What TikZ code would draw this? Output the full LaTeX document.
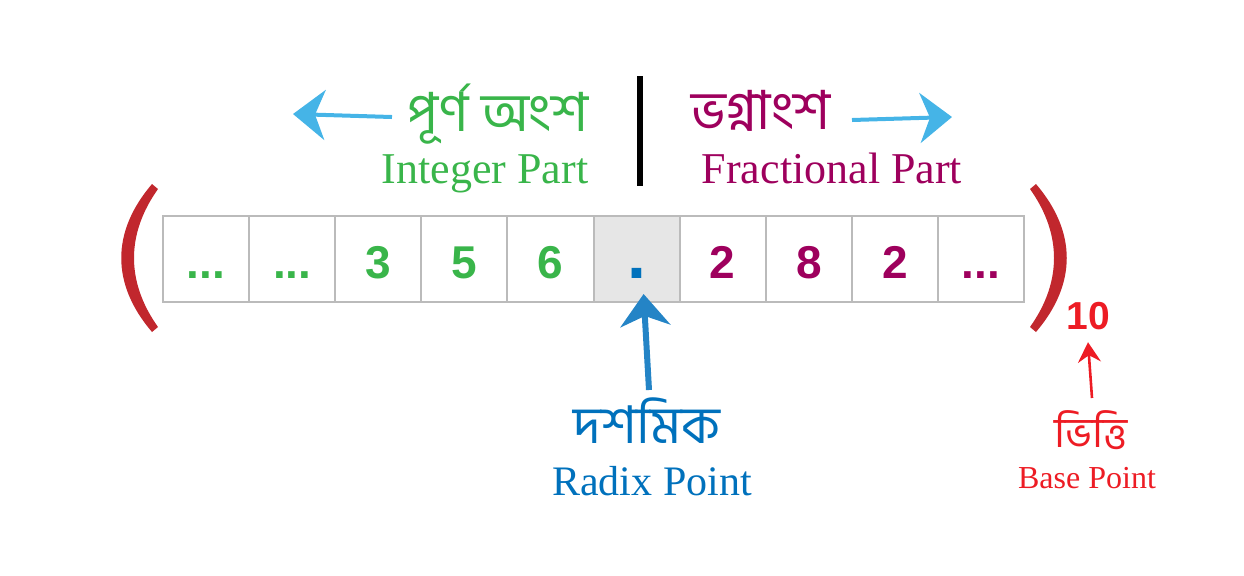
\documentclass[tikz,border=0pt]{standalone}
\usepackage{fontspec}
\setmainfont{Liberation Serif}
\newfontfamily\digitfont{Liberation Sans}
\newfontfamily\bnfont[Script=Bengali]{Hind Siliguri}
\usetikzlibrary{arrows.meta, positioning}
\definecolor{intgreen}{HTML}{39B54A}
\definecolor{fracpurple}{HTML}{9E005D}
\definecolor{radixblue}{HTML}{0071BC}
\definecolor{radixarrow}{HTML}{2484C6}
\definecolor{sideblue}{HTML}{45B4E7}
\definecolor{parenred}{HTML}{C1272D}
\definecolor{basered}{HTML}{ED1C24}
\definecolor{cellgray}{HTML}{BBBBBB}
\definecolor{cellshade}{HTML}{E6E6E6}
\tikzset{
  digitbox/.style={rectangle, draw=cellgray, line width=1pt, inner sep=0pt, outer sep=0pt,
                   minimum width=43.05pt, minimum height=43pt,
                   text height=19pt, text depth=0pt,
                   font=\digitfont\bfseries\fontsize{23pt}{23pt}\selectfont, text=#1},
  digitbox/.default=intgreen,
  bnlbl/.style={font=\bnfont\fontsize{#1}{#1}\selectfont, inner sep=0pt, anchor=base},
  enlbl/.style={font=\fontsize{#1}{#1}\selectfont, inner sep=0pt, anchor=base},
  arr/.style={-{Stealth[length=16pt, width=25pt, inset=5pt]}, line width=2pt, #1},
  arr/.default=sideblue,
  smallarr/.style={-{Stealth[length=10pt, width=11.5pt, inset=3.5pt]}, line width=1.3pt, #1},
}

\begin{document}
\begin{tikzpicture}[x=0.5pt, y=-0.5pt]
  \useasboundingbox (0,0) rectangle (1244,575);

  % --- digit row ---
  \node[digitbox] (c1) at (206.1,259) {...};
  \node[digitbox, right=0pt of c1] (c2) {...};
  \node[digitbox, right=0pt of c2] (c3) {3};
  \node[digitbox, right=0pt of c3] (c4) {5};
  \node[digitbox, right=0pt of c4] (c5) {6};
  \node[digitbox=radixblue, fill=cellshade, right=0pt of c5] (c6) {\fontsize{34pt}{34pt}\selectfont .};
  \node[digitbox=fracpurple, right=0pt of c6] (c7) {2};
  \node[digitbox=fracpurple, right=0pt of c7] (c8) {8};
  \node[digitbox=fracpurple, right=0pt of c8] (c9) {2};
  \node[digitbox=fracpurple, right=0pt of c9] (c10) {...};

  % --- brackets and base ---
  \fill[parenred] (152,184) .. controls (111,232) and (111,284) .. (152,332) -- (158,327)
    .. controls (126,282) and (126,234) .. (158,189) -- cycle;
  \fill[parenred] (1036,184) .. controls (1077,232) and (1077,284) .. (1036,332) -- (1030,327)
    .. controls (1062,282) and (1062,234) .. (1030,189) -- cycle;
  \node[font=\digitfont\bfseries\fontsize{19.5pt}{19.5pt}\selectfont, text=basered, inner sep=0pt] (ten) at (1088,316) {10};

  % --- top labels ---
  \draw[line width=3pt] (640,76) -- (640,186);
  \node[bnlbl=27pt, text=intgreen] (intbn) at (498,131) {পূর্ণ অংশ};
  \node[enlbl=22pt, text=intgreen] (inten) at (485,183) {Integer Part};
  \node[bnlbl=27pt, text=fracpurple] (fracbn) at (761,129) {ভগ্নাংশ};
  \node[enlbl=22pt, text=fracpurple] (fracen) at (832,183) {Fractional Part};
  \coordinate (intTail) at (392,117);
  \coordinate (intTip) at (293,114);
  \coordinate (fracTail) at (852,120);
  \coordinate (fracTip) at (952,117);
  \draw[arr] (intTail) -- (intTip);
  \draw[arr] (fracTail) -- (fracTip);

  % --- radix point ---
  \node[bnlbl=26pt, text=radixblue] (radixbn) at (647,443) {দশমিক};
  \node[enlbl=21pt, text=radixblue] (radixen) at (652,495) {Radix Point};
  \coordinate (radixTail) at (649,390);
  \draw[arr=radixarrow, line width=3pt] (radixTail) -- ([xshift=3.5pt, yshift=4pt]c6.south);

  % --- base point ---
  \node[bnlbl=21pt, text=basered] (basebn) at (1091,447) {ভিত্তি};
  \node[enlbl=16pt, text=basered] (baseen) at (1087,488) {Base Point};
  \coordinate (baseTail) at (1092,398);
  \draw[smallarr=basered] (baseTail) -- ([yshift=-6pt]ten.south);
\end{tikzpicture}
\end{document}
